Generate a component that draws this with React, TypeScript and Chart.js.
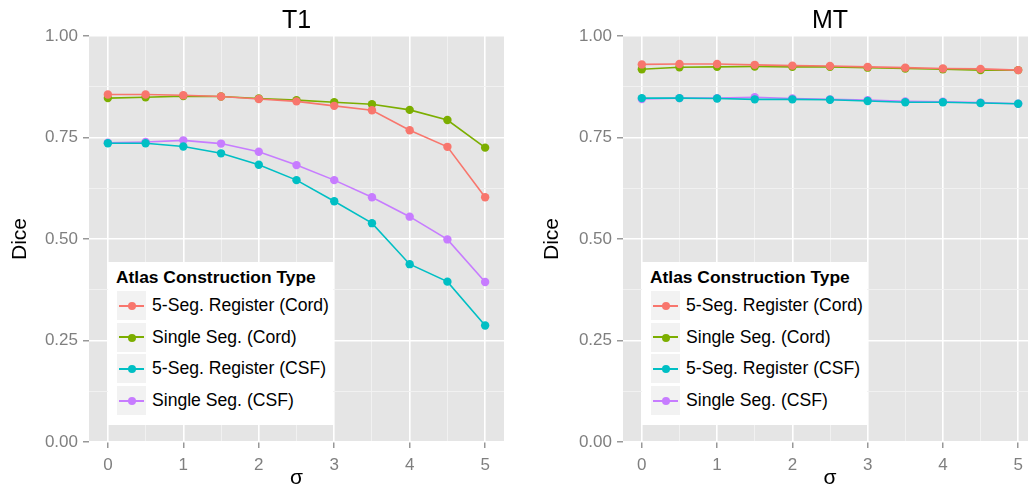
import React, { useEffect, useRef } from "react";
import { Chart, registerables } from "chart.js";
Chart.register(...registerables);

const FONT = "'Liberation Sans', Arial, Helvetica, sans-serif";

const sigma = [0, 0.5, 1, 1.5, 2, 2.5, 3, 3.5, 4, 4.5, 5];
const xTickValues = [0, 0.5, 1, 1.5, 2, 2.5, 3, 3.5, 4, 4.5, 5];
const yTickValues = [0, 0.125, 0.25, 0.375, 0.5, 0.625, 0.75, 0.875, 1];

const seriesNames = [
  "5-Seg. Register (Cord)",
  "Single Seg. (Cord)",
  "5-Seg. Register (CSF)",
  "Single Seg. (CSF)",
];
const seriesColors = ["#F8766D", "#7CAE00", "#00BFC4", "#C77CFF"];

const t1Reg5Cord = [0.856, 0.856, 0.854, 0.851, 0.845, 0.839, 0.828, 0.817, 0.768, 0.727, 0.603];
const t1SingleCord = [0.847, 0.849, 0.852, 0.851, 0.846, 0.842, 0.837, 0.832, 0.818, 0.793, 0.725];
const t1Reg5CSF = [0.736, 0.736, 0.728, 0.711, 0.683, 0.645, 0.593, 0.539, 0.438, 0.395, 0.287];
const t1SingleCSF = [0.737, 0.739, 0.743, 0.735, 0.715, 0.682, 0.645, 0.603, 0.555, 0.499, 0.394];

const mtReg5Cord = [0.930, 0.931, 0.931, 0.929, 0.927, 0.926, 0.924, 0.922, 0.920, 0.919, 0.916];
const mtSingleCord = [0.918, 0.923, 0.924, 0.925, 0.924, 0.924, 0.922, 0.920, 0.918, 0.916, 0.916];
const mtReg5CSF = [0.847, 0.847, 0.846, 0.844, 0.844, 0.843, 0.840, 0.837, 0.837, 0.835, 0.833];
const mtSingleCSF = [0.845, 0.847, 0.847, 0.849, 0.846, 0.844, 0.842, 0.839, 0.838, 0.836, 0.833];

const panelBg = {
  id: "panelBg",
  beforeDraw(chart: any) {
    const { ctx, chartArea } = chart;
    ctx.save();
    ctx.fillStyle = "#E5E5E5";
    ctx.fillRect(chartArea.left, chartArea.top, chartArea.width, chartArea.height);
    ctx.restore();
  },
};

const isMajorX = (v: number) => Number.isInteger(v);
const isMajorY = (v: number) => Math.abs(v * 4 - Math.round(v * 4)) < 1e-9;

type PanelProps = {
  title: string;
  series: number[][];
  left: number;
  width: number;
  yAxisWidth: number;
  padRight: number;
  yTitlePad: number;
};

function Panel({ title, series, left, width, yAxisWidth, padRight, yTitlePad }: PanelProps) {
  const ref = useRef<HTMLCanvasElement | null>(null);
  useEffect(() => {
    if (!ref.current) return;
    const chart = new Chart(ref.current, {
      type: "line",
      data: {
        datasets: series.map((vals, i) => ({
          label: seriesNames[i],
          data: sigma.map((s, j) => ({ x: s, y: vals[j] })),
          borderColor: seriesColors[i],
          backgroundColor: seriesColors[i],
          borderWidth: 1.6,
          pointRadius: 4.2,
          pointBorderWidth: 0,
          pointHoverRadius: 4.2,
          tension: 0,
          fill: false,
        })),
      },
      options: {
        responsive: false,
        animation: false,
        devicePixelRatio: 1,
        layout: { padding: { left: 0, right: padRight, top: 0, bottom: 0 } },
        plugins: {
          legend: { display: false },
          tooltip: { enabled: false },
          title: {
            display: true,
            text: title,
            fullSize: false,
            color: "#000000",
            font: { family: FONT, size: 25, weight: "normal", lineHeight: 1.2 },
            padding: { top: 6, bottom: 0 },
          },
        },
        scales: {
          x: {
            type: "linear",
            min: -0.25,
            max: 5.25,
            afterBuildTicks: (s: any) => {
              s.ticks = xTickValues.map((v) => ({ value: v }));
            },
            afterFit: (s: any) => {
              s.height = 51;
            },
            border: { display: false },
            grid: {
              color: (c: any) => (c.tick && isMajorX(c.tick.value) ? "#FFFFFF" : "#F2F2F2"),
              lineWidth: (c: any) => (c.tick && isMajorX(c.tick.value) ? 1.6 : 0.9),
              tickColor: (c: any) => (c.tick && isMajorX(c.tick.value) ? "#7F7F7F" : "rgba(0,0,0,0)"),
              tickLength: 6,
              tickWidth: 1.2,
            },
            ticks: {
              autoSkip: false,
              maxRotation: 0,
              padding: 7,
              color: "#7F7F7F",
              font: { family: FONT, size: 17 },
              callback: (v: any) => (isMajorX(Number(v)) ? String(v) : ""),
            },
            title: {
              display: true,
              text: "σ",
              color: "#000000",
              font: { family: FONT, size: 21, lineHeight: 1.2 },
              padding: { top: 0, bottom: 2 },
            },
          },
          y: {
            type: "linear",
            min: 0,
            max: 1,
            afterBuildTicks: (s: any) => {
              s.ticks = yTickValues.map((v) => ({ value: v }));
            },
            afterFit: (s: any) => {
              s.width = yAxisWidth;
            },
            border: { display: false },
            grid: {
              color: (c: any) => (c.tick && isMajorY(c.tick.value) ? "#FFFFFF" : "#F2F2F2"),
              lineWidth: (c: any) => (c.tick && isMajorY(c.tick.value) ? 1.6 : 0.9),
              tickColor: (c: any) => (c.tick && isMajorY(c.tick.value) ? "#7F7F7F" : "rgba(0,0,0,0)"),
              tickLength: 6,
              tickWidth: 1.2,
            },
            ticks: {
              autoSkip: false,
              padding: 5,
              color: "#7F7F7F",
              font: { family: FONT, size: 17 },
              callback: (v: any) => (isMajorY(Number(v)) ? Number(v).toFixed(2) : ""),
            },
            title: {
              display: true,
              text: "Dice",
              color: "#000000",
              font: { family: FONT, size: 21, lineHeight: 1.2 },
              padding: { top: yTitlePad, bottom: 0 },
            },
          },
        },
      } as any,
      plugins: [panelBg],
    });
    return () => chart.destroy();
  }, []);
  return (
    <div style={{ position: "absolute", left, top: 0, width, height: 493 }}>
      <canvas ref={ref} width={width} height={493} style={{ display: "block" }} />
    </div>
  );
}

function Legend({ left }: { left: number }) {
  return (
    <div
      style={{
        position: "absolute",
        left,
        top: 262,
        width: 225,
        height: 163,
        background: "#FFFFFF",
        fontFamily: FONT,
        color: "#000",
      }}
    >
      <div
        style={{
          position: "absolute",
          left: 8,
          top: 5,
          fontSize: 17.4,
          fontWeight: "bold",
          lineHeight: "20px",
          whiteSpace: "nowrap",
        }}
      >
        Atlas Construction Type
      </div>
      {seriesNames.map((name, i) => (
        <div key={name} style={{ position: "absolute", left: 0, top: 29 + i * 31.7, width: 225, height: 29 }}>
          <div style={{ position: "absolute", left: 9, top: 0, width: 29, height: 29, background: "#F2F2F2" }}>
            <div
              style={{
                position: "absolute",
                left: 2,
                top: 13.5,
                width: 25,
                height: 2,
                background: seriesColors[i],
              }}
            />
            <div
              style={{
                position: "absolute",
                left: 10.5,
                top: 11,
                width: 8,
                height: 8,
                borderRadius: 4,
                background: seriesColors[i],
              }}
            />
          </div>
          <div
            style={{
              position: "absolute",
              left: 44,
              top: 0,
              height: 29,
              lineHeight: "29px",
              fontSize: 17.6,
              whiteSpace: "nowrap",
            }}
          >
            {name}
          </div>
        </div>
      ))}
    </div>
  );
}

export default function App() {
  return (
    <div
      style={{
        position: "absolute",
        left: 0,
        top: 0,
        width: 1028,
        height: 493,
        overflow: "hidden",
        background: "#FFFFFF",
      }}
    >
      <Panel
        title="T1"
        series={[t1Reg5Cord, t1SingleCord, t1Reg5CSF, t1SingleCSF]}
        left={0}
        width={514}
        yAxisWidth={89}
        padRight={10}
        yTitlePad={8}
      />
      <Panel
        title="MT"
        series={[mtReg5Cord, mtSingleCord, mtReg5CSF, mtSingleCSF]}
        left={514}
        width={530}
        yAxisWidth={109}
        padRight={7}
        yTitlePad={26}
      />
      <Legend left={108} />
      <Legend left={642} />
    </div>
  );
}
